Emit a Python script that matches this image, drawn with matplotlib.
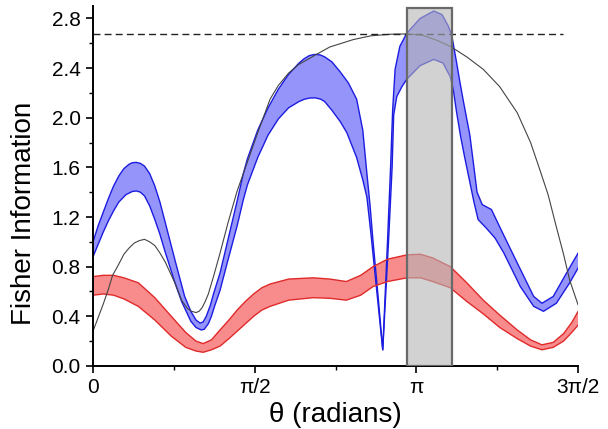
"""Fisher information vs. theta with confidence bands."""

import matplotlib

matplotlib.use("Agg")
import matplotlib.pyplot as plt
import numpy as np
from matplotlib.patches import Rectangle
from matplotlib.ticker import FixedLocator

plt.rcParams["font.family"] = ["Liberation Sans", "DejaVu Sans"]

# blue band (upper / lower edges)
BLUE_UP_T = [0.00, 0.05, 0.10, 0.15, 0.20, 0.25, 0.30, 0.35, 0.38, 0.42, 0.46, 0.50,
             0.55, 0.60, 0.65, 0.70, 0.75, 0.80, 0.89, 0.95, 1.00, 1.04, 1.07, 1.10,
             1.14, 1.17, 1.234, 1.30, 1.40, 1.46, 1.50, 1.60, 1.70, 1.80, 1.90,
             2.00, 2.05, 2.10, 2.14, 2.17, 2.21, 2.25, 2.32, 2.40, 2.48, 2.56, 2.62,
             2.66, 2.69, 2.72, 2.77, 2.814, 2.86, 2.89, 2.91, 2.934, 2.98, 3.047,
             3.177, 3.31, 3.39, 3.45, 3.485, 3.53, 3.565, 3.60, 3.66, 3.73, 3.78,
             3.87, 3.95, 4.12, 4.28, 4.36, 4.47, 4.60, 4.712]
BLUE_UP_Y = [1.00, 1.13, 1.24, 1.35, 1.45, 1.53, 1.59, 1.625, 1.637, 1.64, 1.632, 1.61,
             1.55, 1.45, 1.32, 1.16, 1.00, 0.84, 0.56, 0.44, 0.37, 0.345, 0.355, 0.40,
             0.49, 0.58, 0.75, 0.98, 1.33, 1.55, 1.67, 1.90, 2.08, 2.23, 2.35,
             2.44, 2.475, 2.50, 2.508, 2.51, 2.505, 2.49, 2.45, 2.37, 2.28, 2.15, 1.90,
             1.55, 1.30, 1.00, 0.55, 0.13, 1.00, 1.60, 2.06, 2.39, 2.575, 2.68,
             2.80, 2.86, 2.83, 2.74, 2.66, 2.45, 2.28, 2.12, 1.86, 1.40, 1.30,
             1.26, 1.12, 0.83, 0.56, 0.505, 0.56, 0.75, 0.91]
BLUE_LO_T = [0.00, 0.05, 0.10, 0.15, 0.20, 0.25, 0.32, 0.38, 0.42, 0.46, 0.50, 0.55,
             0.60, 0.65, 0.70, 0.75, 0.80, 0.86, 0.95, 1.00, 1.05, 1.08, 1.12, 1.15,
             1.18, 1.234, 1.30, 1.40, 1.46, 1.50, 1.60, 1.70, 1.80, 1.90, 2.00,
             2.05, 2.10, 2.157, 2.21, 2.25, 2.32, 2.40, 2.465, 2.56, 2.62, 2.66,
             2.70, 2.75, 2.814, 2.87, 2.905, 2.92, 2.95, 3.00, 3.047, 3.177, 3.31,
             3.40, 3.47, 3.50, 3.53, 3.57, 3.61, 3.66, 3.70, 3.74, 3.82, 3.905,
             3.99, 4.15, 4.28, 4.375, 4.50, 4.63, 4.712]
BLUE_LO_Y = [0.88, 0.98, 1.08, 1.17, 1.25, 1.32, 1.38, 1.405, 1.41, 1.40, 1.37, 1.29,
             1.18, 1.06, 0.92, 0.79, 0.66, 0.52, 0.36, 0.31, 0.29, 0.295, 0.34, 0.40,
             0.48, 0.61, 0.82, 1.13, 1.34, 1.46, 1.68, 1.86, 1.99, 2.08, 2.13,
             2.148, 2.158, 2.16, 2.15, 2.13, 2.06, 1.97, 1.88, 1.68, 1.50, 1.36,
             1.06, 0.65, 0.13, 1.00, 1.60, 2.02, 2.17, 2.25, 2.31, 2.42, 2.47,
             2.44, 2.33, 2.22, 2.05, 1.85, 1.68, 1.48, 1.32, 1.18, 1.11, 1.03,
             0.91, 0.64, 0.48, 0.44, 0.505, 0.67, 0.79]

# red band
RED_T = [0.00, 0.10, 0.20, 0.30, 0.44, 0.60, 0.76, 0.90, 1.00, 1.07, 1.15, 1.234,
         1.32, 1.40, 1.48, 1.56, 1.64, 1.72, 1.90, 2.14, 2.30, 2.46, 2.60, 2.72,
         2.86, 3.05, 3.18, 3.30, 3.47, 3.63, 3.79, 3.95, 4.12, 4.25, 4.36, 4.47,
         4.57, 4.65, 4.712]
RED_UP = [0.72, 0.73, 0.73, 0.71, 0.67, 0.55, 0.40, 0.27, 0.20, 0.18, 0.21, 0.29,
          0.37, 0.45, 0.52, 0.58, 0.63, 0.66, 0.70, 0.71, 0.70, 0.68, 0.73, 0.80,
          0.86, 0.895, 0.90, 0.87, 0.80, 0.67, 0.53, 0.41, 0.29, 0.21, 0.17, 0.19,
          0.26, 0.35, 0.44]
RED_LO = [0.57, 0.58, 0.57, 0.54, 0.48, 0.37, 0.24, 0.15, 0.12, 0.11, 0.13, 0.16,
          0.22, 0.28, 0.34, 0.40, 0.45, 0.48, 0.53, 0.55, 0.545, 0.53, 0.57, 0.64,
          0.68, 0.71, 0.71, 0.68, 0.63, 0.52, 0.42, 0.31, 0.22, 0.16, 0.13, 0.15,
          0.20, 0.27, 0.33]

# thin black reference curve
BLACK_T = [0.00, 0.05, 0.10, 0.15, 0.19, 0.25, 0.30, 0.35, 0.40, 0.45, 0.50, 0.55,
           0.60, 0.65, 0.70, 0.75, 0.80, 0.86, 0.92, 0.96, 1.00, 1.03, 1.06, 1.09,
           1.12, 1.17, 1.234, 1.31, 1.40, 1.46, 1.60, 1.72, 1.80, 1.90, 2.00, 2.17,
           2.30, 2.53, 2.70, 2.90, 3.05, 3.20, 3.35, 3.47, 3.63, 3.79, 3.95, 4.12,
           4.25, 4.34, 4.42, 4.50, 4.57, 4.63, 4.712]
BLACK_Y = [0.28, 0.39, 0.50, 0.62, 0.73, 0.82, 0.90, 0.95, 0.99, 1.01, 1.02, 1.00,
           0.97, 0.91, 0.84, 0.75, 0.66, 0.53, 0.46, 0.44, 0.43, 0.44, 0.47, 0.52,
           0.58, 0.72, 0.91, 1.15, 1.41, 1.55, 1.88, 2.15, 2.26, 2.36, 2.43, 2.51,
           2.57, 2.63, 2.66, 2.673, 2.675, 2.665, 2.62, 2.575, 2.49, 2.39, 2.25, 2.04,
           1.80, 1.58, 1.38, 1.12, 0.90, 0.69, 0.49]

BOUND = 2.675
BOUND_END = 4.566
RECT_T0, RECT_T1, RECT_TOP = 3.048, 3.486, 2.885

X_TICKS = [0, np.pi / 2, np.pi, 3 * np.pi / 2]
X_LABELS = ["0", "π/2", "π", "3π/2"]
Y_TICKS = [0.0, 0.4, 0.8, 1.2, 1.6, 2.0, 2.4, 2.8]


def band(ax, t_up, y_up, t_lo, y_lo, face, edge):
    xs = np.concatenate([t_up, t_lo[::-1]])
    ys = np.concatenate([y_up, y_lo[::-1]])
    ax.fill(xs, ys, color=face, lw=0)
    ax.plot(t_up, y_up, color=edge, lw=1.0)
    ax.plot(t_lo, y_lo, color=edge, lw=1.0)


fig = plt.figure(figsize=(6.08, 4.29), dpi=100)
ax = fig.add_axes([0.153, 0.147, 0.798, 0.839])

band(ax, np.array(BLUE_UP_T), np.array(BLUE_UP_Y), np.array(BLUE_LO_T),
     np.array(BLUE_LO_Y), "#9494fa", "#1c1ce0")
band(ax, np.array(RED_T), np.array(RED_UP), np.array(RED_T), np.array(RED_LO),
     "#f88c8c", "#e02a2a")
ax.plot(BLACK_T, BLACK_Y, color="#444444", lw=0.8)
ax.plot([0, BOUND_END], [BOUND, BOUND], color="#222222", lw=1.0, ls=(0, (5, 3)))

ax.add_patch(Rectangle((RECT_T0, 0), RECT_T1 - RECT_T0, RECT_TOP,
                       facecolor=(0.71, 0.71, 0.71, 0.6), edgecolor="#6a6a6a",
                       lw=1.6, zorder=5))

ax.set_xlim(0, 3 * np.pi / 2)
ax.set_ylim(0, 2.9)
ax.set_xticks(X_TICKS)
ax.set_xticklabels(X_LABELS)
ax.xaxis.set_minor_locator(FixedLocator([np.pi / 4, 3 * np.pi / 4, 5 * np.pi / 4]))
ax.set_yticks(Y_TICKS)
ax.set_yticklabels([f"{v:.1f}" for v in Y_TICKS])
ax.yaxis.set_minor_locator(FixedLocator(np.array(Y_TICKS[:-1]) + 0.2))

for side in ("top", "right"):
    ax.spines[side].set_visible(False)
for side in ("left", "bottom"):
    ax.spines[side].set_linewidth(1.4)

ax.tick_params(which="major", direction="out", length=5, width=1.2,
               labelsize=15, pad=4)
ax.tick_params(which="minor", direction="out", length=3, width=1.0)

ax.set_xlabel("θ (radians)", fontsize=20, labelpad=3)
ax.set_ylabel("Fisher Information", fontsize=20)
ax.yaxis.set_label_coords(-0.115, 0.425)

fig.savefig("out.png")
